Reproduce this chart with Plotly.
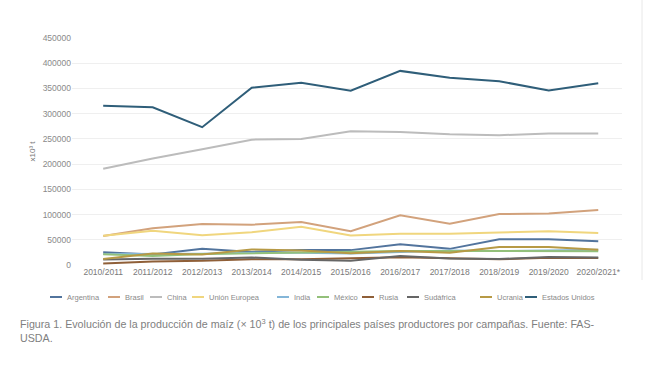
import plotly.graph_objects as go

campanas = ["2010/2011", "2011/2012", "2012/2013", "2013/2014", "2014/2015", "2015/2016",
            "2016/2017", "2017/2018", "2018/2019", "2019/2020", "2020/2021*"]

argentina = [25200, 21000, 32100, 26000, 29750, 29500, 41000, 32000, 51000, 51000, 47000]
brasil = [57400, 73000, 81500, 80000, 85000, 67000, 98500, 82000, 101000, 102000, 109000]
china = [190800, 211300, 229600, 248500, 249800, 265100, 263600, 259100, 257300, 260800, 260700]
union_europea = [58000, 68100, 59000, 64900, 75700, 58700, 61900, 62000, 64400, 66700, 63500]
india = [21700, 21800, 22300, 24300, 24200, 22600, 25900, 28800, 27700, 28800, 30200]
mexico = [21100, 17600, 21600, 22900, 25500, 26000, 27600, 27600, 27700, 26700, 27500]
rusia = [3100, 7000, 8200, 11600, 11300, 13200, 15300, 13200, 11400, 14300, 13900]
sudafrica = [10900, 12400, 12400, 14900, 10600, 8200, 17600, 13100, 11800, 15800, 15000]
ucrania = [11900, 22800, 20900, 30900, 28500, 23300, 28000, 24100, 35800, 35900, 30300]
estados_unidos = [315600, 312800, 273200, 351300, 361100, 345500, 384800, 371100, 364300, 345900, 360300]

series = [
    ("Argentina", argentina, "#52749d"),
    ("Brasil", brasil, "#d2a27c"),
    ("China", china, "#bcbcbc"),
    ("Unión Europea", union_europea, "#f0d67e"),
    ("India", india, "#84b6d8"),
    ("México", mexico, "#93c07a"),
    ("Rusia", rusia, "#8f5f38"),
    ("Sudáfrica", sudafrica, "#666666"),
    ("Ucrania", ucrania, "#b79a45"),
    ("Estados Unidos", estados_unidos, "#2f5e79"),
]

W, H = 650, 366
L, R, T, B = 72, 28, 38, 101
PW, PH = W - L - R, H - T - B


def px_x(px):
    return (px - L) / PW


def px_y(py):
    return (H - B - py) / PH


fig = go.Figure()
for name, vals, col in series:
    fig.add_trace(go.Scatter(x=campanas, y=vals, name=name, mode="lines",
                             line=dict(color=col, width=2), showlegend=False))

fig.update_layout(
    width=W, height=H,
    margin=dict(l=L, r=R, t=T, b=B),
    paper_bgcolor="white", plot_bgcolor="white",
    font=dict(family="Liberation Sans, Arial, sans-serif", size=8, color="#888888"),
    xaxis=dict(type="category", range=[-0.63, 10.48], showgrid=False, zeroline=False,
               showline=False, ticks="", tickfont=dict(size=8.5, color="#7a7a7a"),
               tickangle=0),
    yaxis=dict(range=[0, 450000], dtick=50000, tickformat="d", showgrid=True,
               gridcolor="#efefef", gridwidth=1, zeroline=False, showline=False,
               tickfont=dict(size=8.5, color="#8a8a8a"), ticks="",
               title=dict(text="x10³ t", font=dict(size=8, color="#777777"), standoff=5)),
)

# legend drawn like the original (short line + label in one row)
legend_px = [50, 108, 150, 192, 277, 317, 362, 407, 480, 525]
ly = px_y(297)
for (name, _, col), lx in zip(series, legend_px):
    fig.add_shape(type="line", xref="paper", yref="paper",
                  x0=px_x(lx), x1=px_x(lx + 12), y0=ly, y1=ly,
                  line=dict(color=col, width=2))
    fig.add_annotation(xref="paper", yref="paper", x=px_x(lx + 15), y=ly,
                       xanchor="left", yanchor="middle", showarrow=False,
                       text=name, font=dict(size=7.5, color="#8a8a8a"))

# faint frame edge at right
fig.add_shape(type="line", xref="paper", yref="paper",
              x0=px_x(642), x1=px_x(642), y0=px_y(0), y1=px_y(280),
              line=dict(color="#e8e8e8", width=1))

fig.add_annotation(
    xref="paper", yref="paper", x=px_x(18), y=px_y(315), xanchor="left", yanchor="top",
    align="left", showarrow=False,
    text="Figura 1. Evolución de la producción de maíz (× 10<sup>3</sup> t) de los principales países productores por campañas. Fuente: FAS-<br>USDA.",
    font=dict(size=10.7, color="#808080", family="Liberation Sans, Arial, sans-serif"),
)

fig.write_html("out.html", config={"displayModeBar": False},
               post_script="document.body.style.margin='0';document.body.style.overflow='hidden';")
